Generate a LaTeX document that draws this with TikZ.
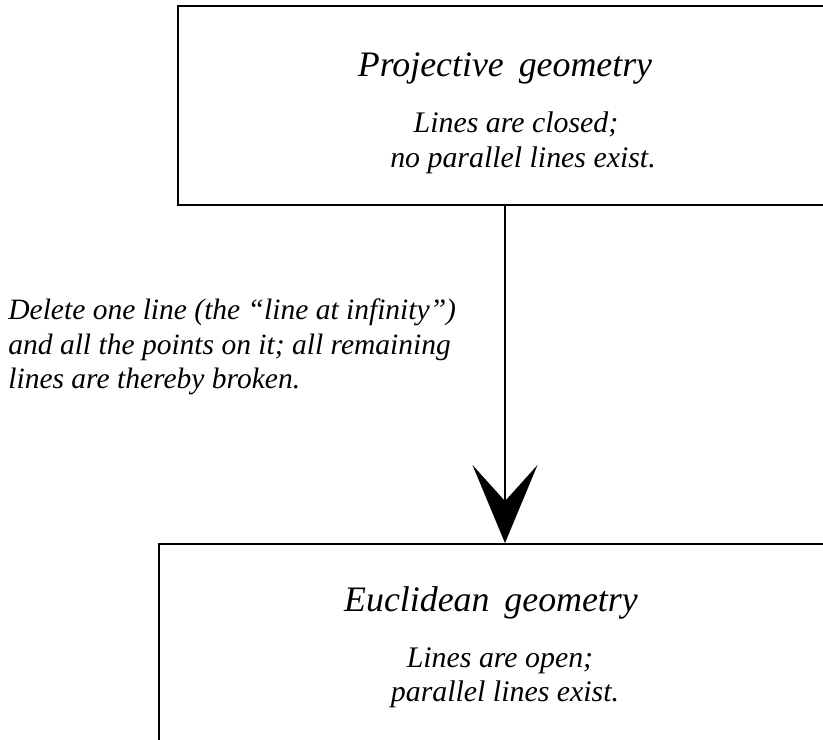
\documentclass[tikz,border=0pt]{standalone}
\usepackage{fontspec}
\setmainfont{Liberation Serif}
\usetikzlibrary{positioning, arrows.meta}

\begin{document}
\begin{tikzpicture}[x=0.02cm, y=-0.02cm,
    geobox/.style={draw, line width=1.1pt, inner sep=0pt},
    geotitle/.style={font=\fontsize{20.4}{24}\selectfont\itshape, anchor=base},
    geotext/.style={font=\fontsize{17}{20}\selectfont\itshape, anchor=base},
    steplabel/.style={font=\fontsize{16.8}{19.8}\selectfont\itshape, align=left, anchor=base west, inner sep=0pt}]
  \useasboundingbox (0,0) rectangle (823,740);
  \clip (0,0) rectangle (823,740);

  % the two geometries
  \node[geobox, minimum width=14.44cm, minimum height=3.98cm] (proj) at (539,105.5) {};
  \node[geobox, minimum width=14.82cm, minimum height=5.12cm] (euc) at (529.5,672) {};

  \node[geotitle] (projtitle) at (505,77) {Projective\, geometry};
  \node[geotext] (projclosed) at (516,133) {Lines are closed;};
  \node[geotext] (projnopar) at (523,168) {no parallel lines exist.};

  \node[geotitle] (euctitle) at (491,612) {Euclidean\, geometry};
  \node[geotext] (eucopen) at (500,667) {Lines are open;};
  \node[geotext] (eucpar) at (505,702) {parallel lines exist.};

  % the step between them
  \coordinate (drop) at (505,0);
  \draw[line width=1.1pt, -{Stealth[length=1.56cm, width=1.3cm, inset=0.72cm]}]
    (drop |- proj.south) -- (drop |- euc.north);
  \node[steplabel] (delete) at (8,389) {Delete one line (the “line at infinity”)\\
    and all the points on it; all remaining\\
    lines are thereby broken.};
\end{tikzpicture}
\end{document}
